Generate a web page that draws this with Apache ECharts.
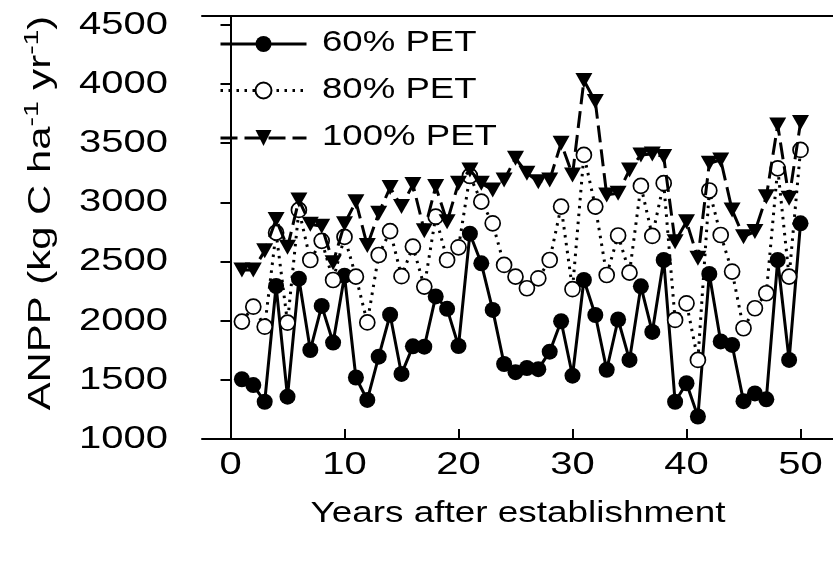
<!DOCTYPE html>
<html>
<head>
<meta charset="utf-8">
<script src="https://cdn.jsdelivr.net/npm/echarts@6/dist/echarts.min.js"></script>
<style>
  html, body { margin: 0; padding: 0; background: #fff; }
  #chart { width: 833px; height: 562px; }
</style>
</head>
<body>
<div id="chart"></div>
<script>
// Years after establishment
const years = [1,2,3,4,5,6,7,8,9,10,11,12,13,14,15,16,17,18,19,20,
               21,22,23,24,25,26,27,28,29,30,31,32,33,34,35,36,37,38,39,40,
               41,42,43,44,45,46,47,48,49,50];

// ANPP (kg C ha-1 yr-1) under each PET scenario
const pet60 = [1505,1456,1315,2293,1358,2355,1752,2125,1815,2380,
               1520,1330,1696,2050,1550,1783,1780,2205,2100,1786,
               2735,2485,2091,1634,1565,1600,1590,1738,1995,1535,
               2344,2048,1585,2010,1668,2290,1905,2513,1315,1471,
               1190,2395,1825,1795,1320,1385,1335,2513,1668,2823];

const pet80 = [1992,2118,1949,2744,1983,2936,2513,2675,2344,2708,
               2372,1985,2555,2757,2376,2626,2288,2879,2513,2620,
               3223,3006,2823,2471,2372,2274,2358,2513,2964,2266,
               3401,2964,2386,2720,2406,3139,2716,3162,2006,2147,
               1668,3100,2724,2415,1936,2105,2232,3288,2372,3443];

const pet100 = [2429,2429,2590,2855,2620,3020,2815,2798,2490,2820,
                3006,2635,2908,3125,2965,3150,2760,3133,2837,3162,
                3274,3162,3105,3190,3373,3246,3175,3190,3500,3232,
                4030,3852,3063,3077,3274,3401,3409,3387,2668,2837,
                2528,3330,3359,2936,2710,2753,3048,3654,3034,3674];

const seriesNames = ['60% PET', '80% PET', '100% PET'];
const xTickValues = [0, 10, 20, 30, 40, 50];
const yTickValues = [1000, 1500, 2000, 2500, 3000, 3500, 4000, 4500];
const xTitle = 'Years after establishment';
const yTitleRich = 'ANPP (kg C ha{s|-1} yr{s|-1})';

const FONT = '"Liberation Sans", Arial, sans-serif';
const WIDE = 1.25;   // horizontal stretch of the wide sans lettering

const pairs = arr => years.map((y, i) => [y, arr[i]]);

const chart = echarts.init(document.getElementById('chart'), null, { renderer: 'canvas' });

const frameLine = { show: true, lineStyle: { color: '#000', width: 2 } };

chart.setOption({
  animation: false,
  backgroundColor: '#fff',
  grid: { left: 202, top: 16, right: 0, bottom: 123, show: false },
  legend: {
    orient: 'vertical',
    left: 214, top: 29,
    itemWidth: 86, itemHeight: 20,
    itemGap: 28.5,
    lineStyle: { width: 3 },
    formatter: () => '',
    textStyle: { fontSize: 10 },
    data: seriesNames
  },
  xAxis: [
    {
      type: 'value',
      min: -2.5, max: 52.85,
      axisLine: frameLine,
      axisTick: { show: true, inside: true, length: 10, customValues: xTickValues,
                  lineStyle: { color: '#000', width: 2 } },
      axisLabel: { show: false },
      splitLine: { show: false }
    },
    {
      // top edge of the plot frame
      type: 'value', position: 'top',
      min: -2.5, max: 52.85,
      axisLine: frameLine,
      axisTick: { show: false }, axisLabel: { show: false }, splitLine: { show: false }
    }
  ],
  yAxis: {
    type: 'value',
    min: 1000, max: 4575,
    axisLine: frameLine,
    axisTick: { show: true, inside: false, length: 10, customValues: yTickValues,
                lineStyle: { color: '#000', width: 2 } },
    axisLabel: { show: false },
    splitLine: { show: false }
  },
  series: [
    {
      name: seriesNames[0], type: 'line', data: pairs(pet60),
      symbol: 'circle', symbolSize: 16,
      itemStyle: { color: '#000' },
      lineStyle: { color: '#000', width: 3, type: 'solid' },
      z: 2
    },
    {
      name: seriesNames[1], type: 'line', data: pairs(pet80),
      symbol: 'circle', symbolSize: 15,
      itemStyle: { color: '#fff', borderColor: '#000', borderWidth: 1.7 },
      lineStyle: { color: '#000', width: 3, type: [2.5, 5.5] },
      z: 3
    },
    {
      name: seriesNames[2], type: 'line', data: pairs(pet100),
      symbol: 'triangle', symbolRotate: 180, symbolSize: [17, 15],
      itemStyle: { color: '#000' },
      lineStyle: { color: '#000', width: 3, type: [17, 7] },
      z: 4
    }
  ]
});

// Lettering: tick labels, axis titles and legend captions, placed from the axes' own scales
const toX = v => chart.convertToPixel({ xAxisIndex: 0 }, v);
const toY = v => chart.convertToPixel({ yAxisIndex: 0 }, v);

function label(text, x, y, size, align, extra) {
  return Object.assign({
    type: 'text', x: x, y: y, scaleX: WIDE, z: 100,
    style: {
      text: text, fontFamily: FONT, fontSize: size, fill: '#000',
      align: align, textAlign: align,
      verticalAlign: 'middle', textVerticalAlign: 'middle'
    }
  }, extra || {});
}

const elements = [];
yTickValues.forEach(v => elements.push(label(String(v), 168, toY(v), 32, 'right')));
xTickValues.forEach(v => elements.push(label(String(v), toX(v), 465, 32, 'center')));
elements.push(label(xTitle, 518, 514, 30, 'center', { scaleX: 1.23 }));

const legendRows = [43, 90, 137];
seriesNames.forEach((n, i) => elements.push(label(n, 322, legendRows[i], 30, 'left', { scaleX: 1.22 })));

const yTitle = label(yTitleRich, 41, 213, 31, 'center', { rotation: Math.PI / 2, scaleX: 1.35 });
yTitle.style.rich = {
  s: { fontFamily: FONT, fontSize: 21, fill: '#000', verticalAlign: 'top', padding: [0, 0, 18, 0] }
};
elements.push(yTitle);

chart.setOption({ graphic: { elements: elements } });
</script>
</body>
</html>
